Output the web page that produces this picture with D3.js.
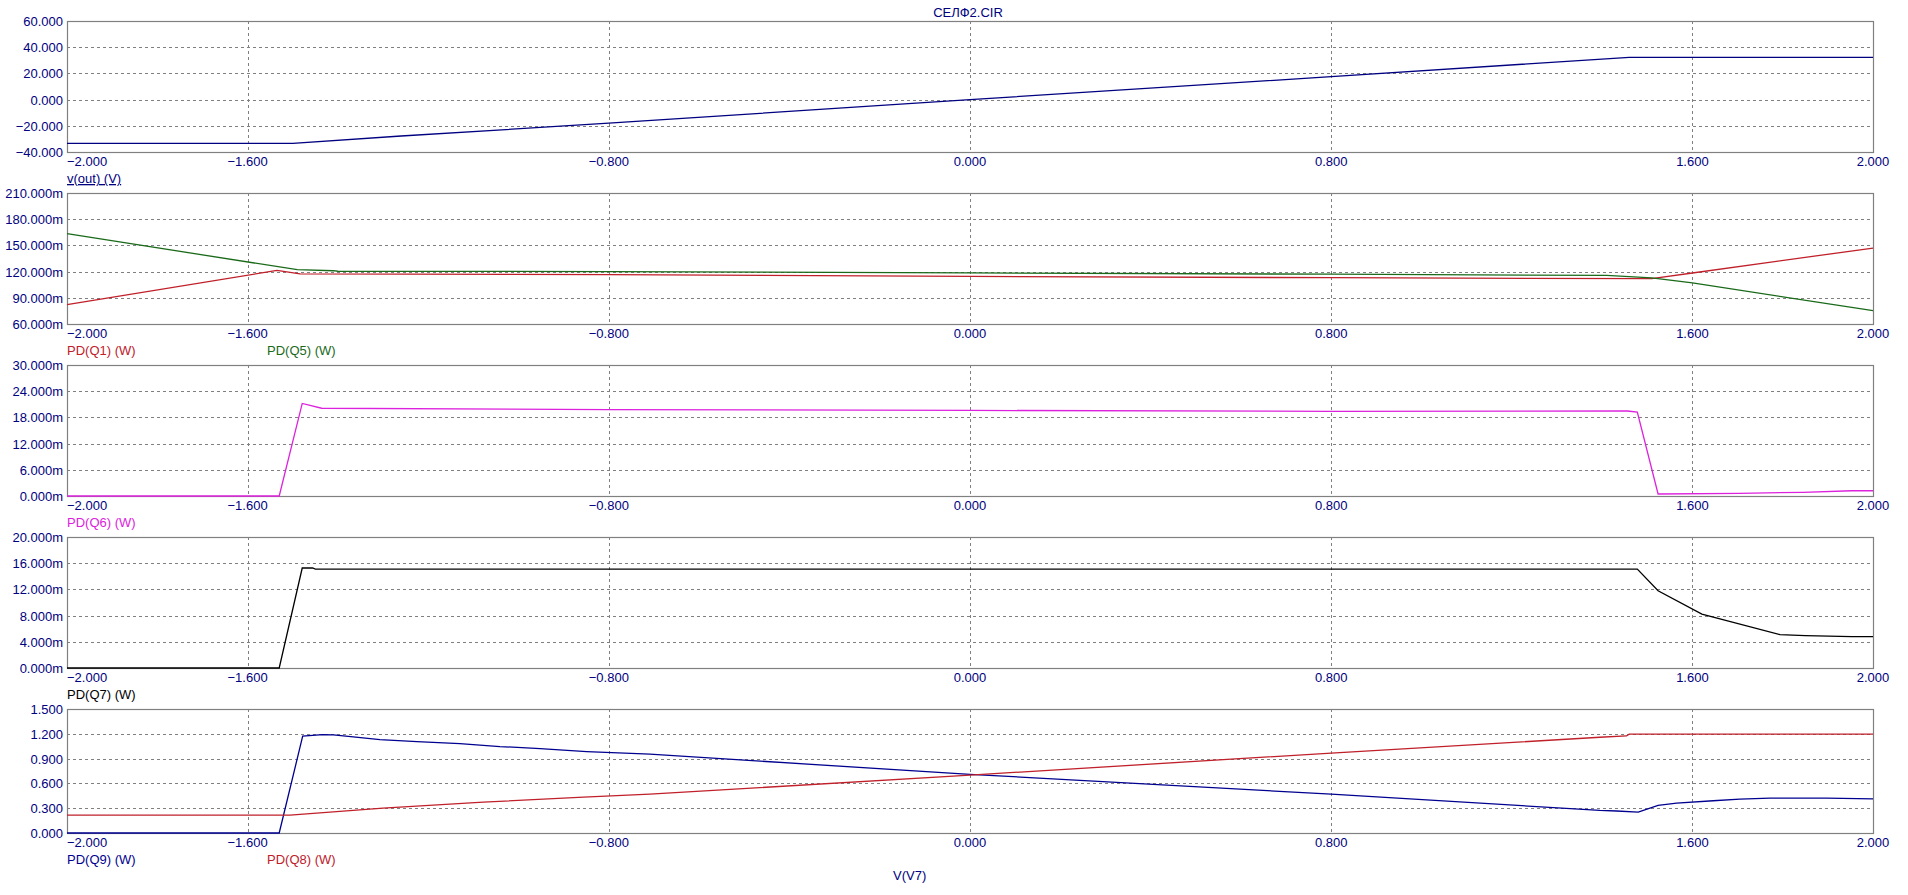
<!DOCTYPE html>
<html>
<head>
<meta charset="utf-8">
<script src="https://cdn.jsdelivr.net/npm/d3@7"></script>
<style>
  body { margin: 0; background: #fff; }
  text { font-family: "Liberation Sans", Arial, sans-serif; font-size: 13px; }
</style>
</head>
<body>
<div id="chart"></div>
<script>
// sweep values V(V7)
var xTicks = [-2, -1.6, -0.8, 0, 0.8, 1.6, 2];

// v(out) (V)
var vout = [[-2, -33.4], [-1.5, -33.4], [-1.26, -27.8], [-0.8, -18], [0, 0], [0.8, 17.5], [1.46, 32.3], [2, 32.3]];

// PD values in mW
var pdQ1 = [[-2, 82.1], [-1.535, 121.4], [-1.484, 117.3], [-0.8, 116.5], [0, 114.5], [0.8, 113], [1.51, 111.9], [1.6, 118.4], [2, 147]];
var pdQ5 = [[-2, 163.4], [-1.49, 122.2], [-1.41, 121], [-1.4, 120.4], [-0.8, 120], [0, 118.5], [0.8, 117], [1.41, 115.6], [1.51, 112.7], [1.6, 107], [2, 75.2]];
var pdQ6 = [[-2, 0], [-1.53, 0], [-1.479, 21.2], [-1.436, 20.1], [-0.8, 19.8], [0, 19.6], [0.8, 19.4], [1.456, 19.47], [1.478, 19.2], [1.524, 0.46], [1.705, 0.6], [1.845, 0.85], [1.953, 1.2], [2, 1.2]];
var pdQ7 = [[-2, 0], [-1.53, 0], [-1.479, 15.27], [-1.456, 15.27], [-1.45, 15.11], [1.478, 15.11], [1.524, 11.8], [1.621, 8.24], [1.794, 5.08], [1.85, 4.93], [1.953, 4.78], [2, 4.78]];

// PD values in W
var pdQ9 = [[-2, 0], [-1.53, 0], [-1.478, 1.171], [-1.434, 1.19], [-1.41, 1.186], [-1.366, 1.162], [-1.307, 1.13], [-1.225, 1.106], [-1.13, 1.082], [-1.041, 1.046], [-0.952, 1.021], [-0.849, 0.985], [-0.709, 0.953], [0, 0.71], [0.8, 0.47], [1.395, 0.273], [1.432, 0.266], [1.48, 0.253], [1.524, 0.334], [1.565, 0.362], [1.646, 0.39], [1.705, 0.41], [1.772, 0.422], [1.897, 0.422], [2, 0.414]];
var pdQ8 = [[-2, 0.217], [-1.506, 0.217], [-1.3, 0.30], [-1.078, 0.373], [-0.856, 0.434], [-0.709, 0.47], [0, 0.70], [0.8, 0.967], [1.395, 1.158], [1.454, 1.174], [1.46, 1.195], [2, 1.195]];

var panels = [
  { top: 21, h: 131, domain: [-40, 60], ticks: [-40, -20, 0, 20, 40, 60], suffix: "",
    series: [{ data: vout, color: "#000080", label: "v(out) (V)", lx: 0, underline: true }] },
  { top: 193, h: 131, domain: [60, 210], ticks: [60, 90, 120, 150, 180, 210], suffix: "m",
    series: [{ data: pdQ1, color: "#c0202a", label: "PD(Q1) (W)", lx: 0 },
             { data: pdQ5, color: "#1a6a1a", label: "PD(Q5) (W)", lx: 200 }] },
  { top: 365, h: 131, domain: [0, 30], ticks: [0, 6, 12, 18, 24, 30], suffix: "m",
    series: [{ data: pdQ6, color: "#dd22dd", label: "PD(Q6) (W)", lx: 0 }] },
  { top: 537, h: 131, domain: [0, 20], ticks: [0, 4, 8, 12, 16, 20], suffix: "m",
    series: [{ data: pdQ7, color: "#000000", label: "PD(Q7) (W)", lx: 0 }] },
  { top: 709, h: 124, domain: [0, 1.5], ticks: [0, 0.3, 0.6, 0.9, 1.2, 1.5], suffix: "",
    series: [{ data: pdQ9, color: "#000090", label: "PD(Q9) (W)", lx: 0 },
             { data: pdQ8, color: "#c0202a", label: "PD(Q8) (W)", lx: 200 }] }
];

var width = 1908, height = 895;
var left = 67, right = 1873;
var navy = "#000080", gridColor = "#808080";

var svg = d3.select("#chart").append("svg")
    .attr("width", width)
    .attr("height", height);

var x = d3.scaleLinear().domain([-2, 2]).range([left, right]);
var fmt = d3.format(".3f");

svg.append("text")
    .attr("x", 968).attr("y", 17)
    .attr("text-anchor", "middle")
    .attr("fill", navy)
    .text("СЕЛФ2.CIR");

panels.forEach(function (p) {
    var y = d3.scaleLinear().domain(p.domain).range([p.top + p.h, p.top]);
    var g = svg.append("g");

    // horizontal grid
    g.selectAll(".hgrid")
        .data(p.ticks.slice(1, -1))
        .enter().append("line")
        .attr("x1", left).attr("x2", right)
        .attr("y1", function (d) { return Math.round(y(d)) + 0.5 })
        .attr("y2", function (d) { return Math.round(y(d)) + 0.5 })
        .attr("stroke", gridColor)
        .attr("stroke-dasharray", "3,3");

    // vertical grid
    g.selectAll(".vgrid")
        .data(xTicks.slice(1, -1))
        .enter().append("line")
        .attr("x1", function (d) { return Math.round(x(d)) + 0.5 })
        .attr("x2", function (d) { return Math.round(x(d)) + 0.5 })
        .attr("y1", p.top).attr("y2", p.top + p.h)
        .attr("stroke", gridColor)
        .attr("stroke-dasharray", "3,3");

    g.append("rect")
        .attr("x", left + 0.5).attr("y", p.top + 0.5)
        .attr("width", right - left).attr("height", p.h)
        .attr("fill", "none")
        .attr("stroke", gridColor)
        .attr("stroke-width", 1.2);

    // y tick labels
    g.selectAll(".ylab")
        .data(p.ticks)
        .enter().append("text")
        .attr("x", 63)
        .attr("y", function (d) { return y(d) + 5 })
        .attr("text-anchor", "end")
        .attr("fill", navy)
        .text(function (d) { return fmt(d) + p.suffix });

    // x tick labels
    g.selectAll(".xlab")
        .data(xTicks)
        .enter().append("text")
        .attr("x", function (d, i) { return i === 0 ? left : x(d) })
        .attr("y", p.top + p.h + 14)
        .attr("text-anchor", function (d, i) { return i === 0 ? "start" : "middle" })
        .attr("fill", navy)
        .text(function (d) { return fmt(d) });

    var line = d3.line()
        .x(function (d) { return x(d[0]) })
        .y(function (d) { return y(d[1]) });

    p.series.forEach(function (s) {
        g.append("path")
            .datum(s.data)
            .attr("d", line)
            .attr("fill", "none")
            .attr("stroke", s.color)
            .attr("stroke-width", 1.3);

        g.append("text")
            .attr("x", left + s.lx)
            .attr("y", p.top + p.h + 31)
            .attr("fill", s.color)
            .attr("text-decoration", s.underline ? "underline" : null)
            .text(s.label);
    });
});

svg.append("text")
    .attr("x", 893).attr("y", 880)
    .attr("fill", navy)
    .text("V(V7)");
</script>
</body>
</html>
